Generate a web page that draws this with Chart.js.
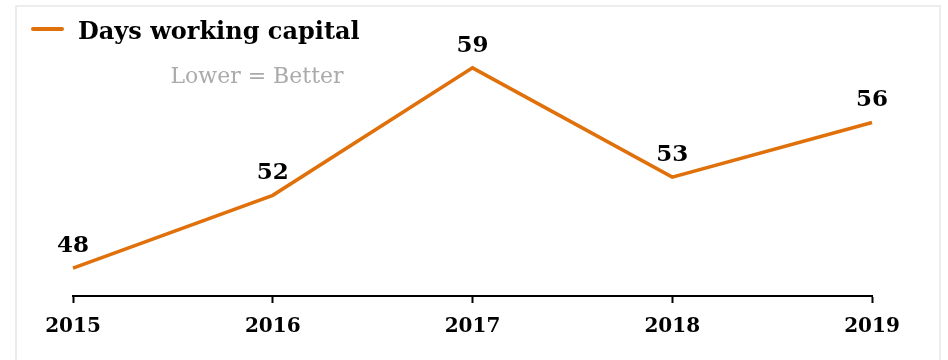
<!DOCTYPE html>
<html>
<head>
<meta charset="utf-8">
<script src="https://cdn.jsdelivr.net/npm/chart.js@4"></script>
<style>
  body { margin: 0; background: #fff; }
  #wrap { position: relative; width: 948px; height: 360px; }
  #frame { position: absolute; left: 15px; top: 5px; width: 926px; height: 400px; border: 2px solid #ececec; box-sizing: border-box; }
  canvas { position: absolute; left: 0; top: 0; }
</style>
</head>
<body>
<div id="wrap">
  <div id="frame"></div>
  <canvas id="chart" width="948" height="360"></canvas>
</div>
<script>
const years = ["2015", "2016", "2017", "2018", "2019"];
const daysWorkingCapital = [48, 52, 59, 53, 56];
const seriesName = "Days working capital";
const note = "Lower = Better";

const lineColor = "#E0700A";
const serif = "'DejaVu Serif', Georgia, serif";

// legend, note and value labels
const extras = {
  id: "extras",
  afterDatasetsDraw(chart) {
    const ctx = chart.ctx;
    ctx.save();
    // legend
    ctx.strokeStyle = lineColor;
    ctx.lineWidth = 4;
    ctx.lineCap = "round";
    ctx.beginPath();
    ctx.moveTo(33, 29);
    ctx.lineTo(62, 29);
    ctx.stroke();
    ctx.fillStyle = "#000";
    ctx.font = "bold 24px " + serif;
    ctx.textBaseline = "alphabetic";
    ctx.textAlign = "left";
    ctx.fillText(seriesName, 78, 39);
    ctx.fillStyle = "#aaaaaa";
    ctx.font = "22px " + serif;
    ctx.textAlign = "center";
    ctx.fillText(note, 257, 83);
    // value labels
    const meta = chart.getDatasetMeta(0);
    ctx.fillStyle = "#000";
    ctx.font = "bold 23px " + serif;
    ctx.textBaseline = "middle";
    meta.data.forEach((pt, i) => {
      ctx.fillText(String(daysWorkingCapital[i]), pt.x, pt.y - 22);
    });
    ctx.restore();
  }
};

new Chart(document.getElementById("chart").getContext("2d"), {
  type: "line",
  data: {
    labels: years,
    datasets: [{
      label: seriesName,
      data: daysWorkingCapital,
      borderColor: lineColor,
      borderWidth: 3.5,
      pointRadius: 0,
      tension: 0,
      fill: false
    }]
  },
  options: {
    responsive: false,
    animation: false,
    layout: { padding: { top: 40, left: 73, right: 76, bottom: 9 } },
    plugins: {
      legend: { display: false },
      tooltip: { enabled: false }
    },
    scales: {
      x: {
        offset: false,
        grid: { drawOnChartArea: false, drawTicks: true, tickLength: 7, tickColor: "#000", tickWidth: 2 },
        border: { display: true, color: "#000", width: 2 },
        ticks: { color: "#000", padding: 12, font: { family: serif, size: 20, weight: "bold" }, maxRotation: 0 }
      },
      y: {
        display: false,
        min: 46.47,
        max: 60.53
      }
    }
  },
  plugins: [extras]
});
</script>
</body>
</html>
